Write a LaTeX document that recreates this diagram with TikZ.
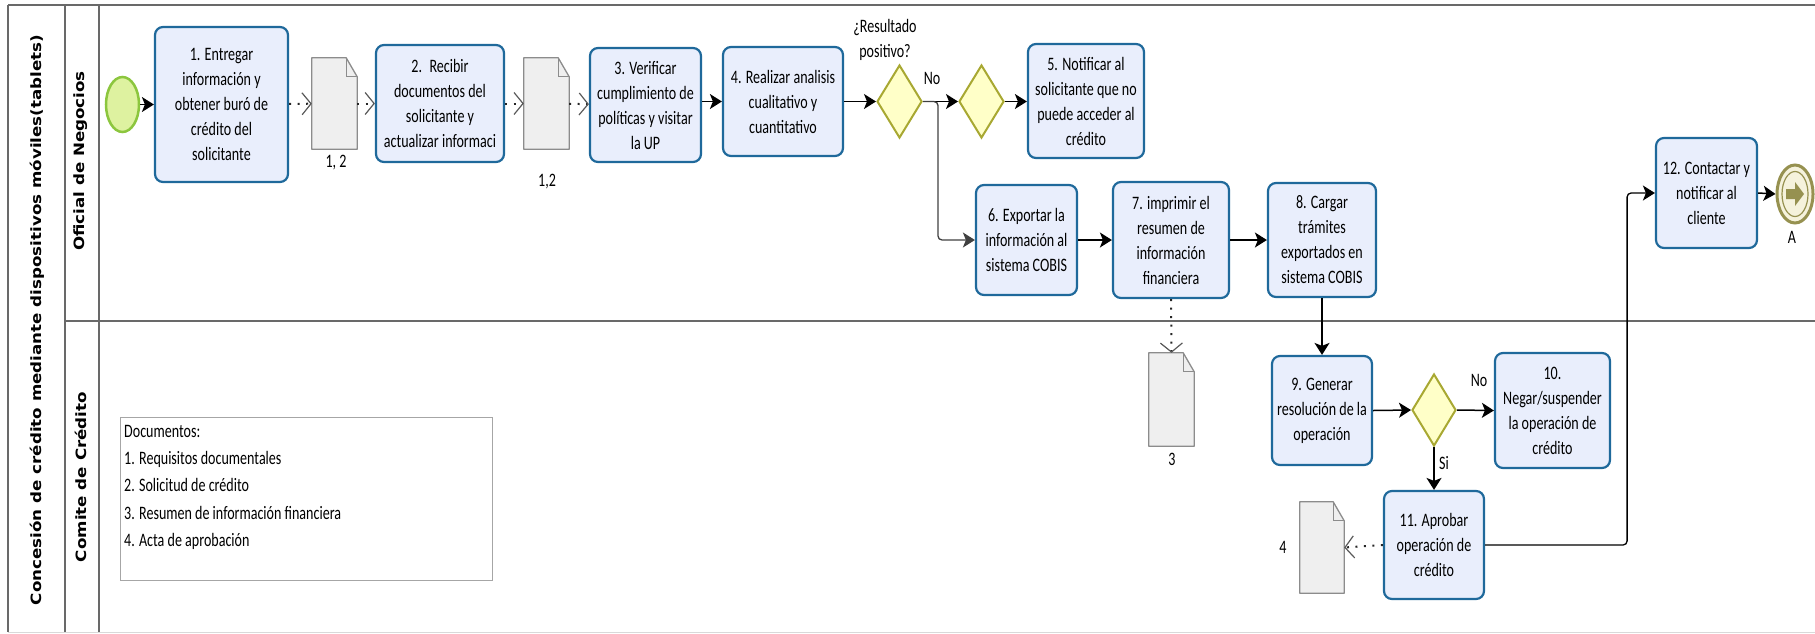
\documentclass[tikz,border=0pt]{standalone}
\usepackage{fontspec}
\setmainfont{Carlito}
\newfontfamily\tf[FakeStretch=0.74]{Carlito}
\newfontfamily\lf{DejaVu Sans}
\usetikzlibrary{shapes.geometric,arrows.meta}
\definecolor{taskfill}{RGB}{233,238,252}
\definecolor{taskdraw}{RGB}{31,105,155}
\definecolor{gwfill}{RGB}{255,255,200}
\definecolor{gwdraw}{RGB}{168,168,50}
\definecolor{startfill}{RGB}{222,242,160}
\definecolor{startdraw}{RGB}{140,198,62}
\definecolor{enddraw}{RGB}{150,145,80}
\definecolor{endfill}{RGB}{245,242,220}
\definecolor{docfill}{RGB}{239,239,239}
\definecolor{docdraw}{RGB}{140,140,140}
\definecolor{framecol}{RGB}{105,105,105}
\tikzset{
  task/.style={rectangle, rounded corners=8pt, draw=taskdraw, fill=taskfill, line width=2.2pt,
    align=center, inner sep=2pt, font=\tf\fontsize{19}{25}\selectfont},
  gw/.style={diamond, draw=gwdraw, fill=gwfill, line width=2pt, inner sep=0pt,
    minimum width=45pt, minimum height=73pt},
  startev/.style={ellipse, draw=startdraw, fill=startfill, line width=2.5pt, inner sep=0pt,
    minimum width=33pt, minimum height=55pt},
  endev/.style={ellipse, draw=enddraw, fill=endfill, line width=3pt, inner sep=0pt,
    minimum width=36pt, minimum height=58pt},
  docbox/.style={rectangle, draw=none, inner sep=0pt, minimum width=45pt, minimum height=91pt},
  docline/.style={draw=docdraw, fill=docfill, line width=1.3pt, line join=round},
  flow/.style={draw=black, line width=1.5pt, -{Stealth[length=12pt,width=15pt,inset=3pt]}},
  assoc/.style={draw=black!85, line width=2pt, dash pattern=on 2pt off 6.5pt,
    -{Straight Barb[length=9pt,width=22pt,line width=1.2pt,color=black!65]}},
  lbl/.style={inner sep=0pt, font=\tf\fontsize{19}{25}\selectfont, align=center},
  lanelab/.style={rotate=90, inner sep=0pt, font=\lf\bfseries\fontsize{16.7}{18}\selectfont},
  framel/.style={draw=framecol, line width=1.6pt}
}
\newcommand\docshape[1]{%
  \path[docline] (#1.north west) -- ([xshift=-11pt]#1.north east) -- ([yshift=-19pt]#1.north east)
    -- (#1.south east) -- (#1.south west) -- cycle;
  \draw[draw=docdraw, line width=1.1pt] ([xshift=-11pt]#1.north east) -- ([xshift=-11pt,yshift=-19pt]#1.north east)
    -- ([yshift=-19pt]#1.north east);}
\begin{document}
\begin{tikzpicture}[x=1pt,y=-1pt]
\useasboundingbox (0,0) rectangle (1815,633);
% frame
\draw[framel] (8,5) -- (1815,5);
\draw[framel] (8,5) -- (8,632);
\draw[framel] (65,5) -- (65,632);
\draw[framel] (99,5) -- (99,632);
\draw[framel] (65,321) -- (1815,321);
\draw[draw=black!15, line width=1.5pt] (8,632.3) -- (1815,632.3);
% labels of pool and lanes
\node[lanelab] (pool) at (37,320) {\scalebox{1}[0.85]{Concesión de crédito mediante dispositivos móviles(tablets)}};
\node[lanelab] (lane1) at (81,161) {\scalebox{1}[0.85]{Oficial de Negocios}};
\node[lanelab] (lane2) at (81,477) {\scalebox{1}[0.85]{Comite de Crédito}};
% events
\node[startev] (start) at (122.5,104.5) {};
\node[endev] (end) at (1795,194) {};
\node[ellipse, draw=enddraw, line width=1.2pt, inner sep=0pt, minimum width=26pt, minimum height=45pt] (endin) at (end) {};
\fill[enddraw] (1786,189) -- (1795,189) -- (1795,182) -- (1804,194) -- (1795,206) -- (1795,199) -- (1786,199) -- cycle;
\node[lbl] (endlbl) at (1792,237) {A};
% tasks
\node[task, minimum width=133pt, minimum height=155pt] (t1) at (221.5,104.5) {1. Entregar\\información y\\obtener buró de\\crédito del\\solicitante};
\node[task, minimum width=128pt, minimum height=117pt] (t2) at (440,103.5) {2.~ Recibir\\documentos del\\solicitante y\\actualizar informaci};
\node[task, minimum width=111pt, minimum height=114pt] (t3) at (645.5,105) {3. Verificar\\cumplimiento de\\políticas y visitar\\la UP};
\node[task, minimum width=120pt, minimum height=109pt] (t4) at (783,101.5) {4. Realizar analisis\\cualitativo y\\cuantitativo};
\node[task, minimum width=116pt, minimum height=114pt] (t5) at (1086,101) {5. Notificar al\\solicitante que no\\puede acceder al\\crédito};
\node[task, minimum width=101pt, minimum height=110pt] (t6) at (1026.5,240) {6. Exportar la\\información al\\sistema COBIS};
\node[task, minimum width=116pt, minimum height=116pt] (t7) at (1171,240) {7. imprimir el\\resumen de\\información\\financiera};
\node[task, minimum width=108pt, minimum height=114pt] (t8) at (1322,240) {8. Cargar\\trámites\\exportados en\\sistema COBIS};
\node[task, minimum width=100pt, minimum height=109pt] (t9) at (1322,410.5) {9. Generar\\resolución de la\\operación};
\node[task, minimum width=115pt, minimum height=115pt] (t10) at (1552.5,410.5) {10.\\Negar/suspender\\la operación de\\crédito};
\node[task, minimum width=100pt, minimum height=108pt] (t11) at (1434,545) {11. Aprobar\\operación de\\crédito};
\node[task, minimum width=101pt, minimum height=110pt] (t12) at (1706.5,193) {12. Contactar y\\notificar al\\cliente};
% gateways
\node[gw] (g1) at (899.5,101.5) {};
\node[gw] (g2) at (981.5,101.5) {};
\node[gw, minimum width=44pt, minimum height=72pt] (g3) at (1434,410) {};
\node[lbl] (g1lbl) at (885,40) {¿Resultado\\positivo?};
\node[lbl] (nolbl1) at (932,78) {No};
\node[lbl] (nolbl2) at (1479,380) {No};
\node[lbl, anchor=west] (silbl) at (1439,463) {Si};
% documents
\node[docbox] (d1) at (334.5,103.5) {};
\docshape{d1}
\node[docbox] (d2) at (546.5,103.5) {};
\docshape{d2}
\node[docbox, minimum height=93pt] (d3) at (1171.5,399.5) {};
\docshape{d3}
\node[docbox, minimum width=44pt] (d4) at (1322,547.5) {};
\docshape{d4}
\node[lbl] (d1lbl) at (336,163) {1, 2};
\node[lbl] (d2lbl) at (547,182) {1,2};
\node[lbl] (d3lbl) at (1172,459) {3};
\node[lbl] (d4lbl) at (1283,547) {4};
% legend
\node[rectangle, draw=black!35, line width=1.2pt, fill=white, minimum width=372pt, minimum height=163pt, anchor=north west] (legbox) at (120,417) {};
\node[anchor=north west, align=left, inner sep=0pt, font=\tf\fontsize{19}{27.2}\selectfont] (legtext) at (124,425) {Documentos:\\1. Requisitos documentales\\2. Solicitud de crédito\\3. Resumen de información financiera\\4. Acta de aprobación};
% sequence flows
\draw[flow] (start) -- (t1);
\draw[flow] (t3.east |- t4.west) -- (t4.west);
\draw[flow] (t4.east) -- (g1.west);
\draw[flow] (g1.east) -- (g2.west);
\draw[flow] (g2.east) -- (t5.west |- g2.east);
\draw[flow, draw=black!75, line width=1.3pt, rounded corners=4pt] (g1.east) -- ++(15,0) |- (t6.west);
\draw[flow] (t6.east) -- (t7.west);
\draw[flow] (t7.east) -- (t8.west);
\draw[flow] (t8.south) -- (t9.north);
\draw[flow] (t9.east) -- (g3.west);
\draw[flow] (g3.east) -- (t10.west);
\draw[flow] (g3.south) -- (t11.north);
\draw[flow, line width=1.3pt, rounded corners=4pt] (t11.east) -- ++(142,0) |- (t12.west);
\draw[flow] (t12.east) -- (end.west);
% associations
\draw[assoc] (t1) -- (d1);
\draw[assoc] (d1) -- (t2);
\draw[assoc] (t2) -- (d2);
\draw[assoc] (d2) -- (t3);
\draw[assoc] (t7.south) -- (d3.north);
\draw[assoc] (t11.west) -- (d4.east);
\end{tikzpicture}
\end{document}
